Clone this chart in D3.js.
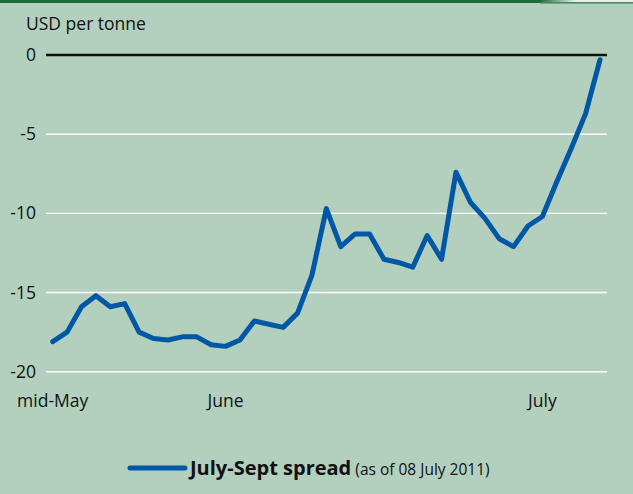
<!DOCTYPE html>
<html lang="en">
<head>
	<meta charset="UTF-8">
	<script src="https://d3js.org/d3.v7.min.js"></script>
	<title>July-Sept spread</title>
	<style>
		body { margin: 0; background: #b3d0be; }
		svg { display: block; font-family: "Open Sans", "Noto Sans", sans-serif; }
	</style>
</head>
<body>
	<div id="chart"></div>
	<script>
		// spread values, USD per tonne (daily, mid-May to 08 July 2011)
		const spread = [
			-18.1, -17.5, -15.9, -15.2, -15.9, -15.7, -17.5, -17.9, -18.0, -17.8,
			-17.8, -18.3, -18.4, -18.0, -16.8, -17.0, -17.2, -16.3, -13.9, -9.7,
			-12.1, -11.3, -11.3, -12.9, -13.1, -13.4, -11.4, -12.9, -7.4, -9.3,
			-10.3, -11.6, -12.1, -10.8, -10.2, -8.0, -5.9, -3.7, -0.3
		];
		const yTicks = [0, -5, -10, -15, -20];
		const xLabels = [
			{ index: 0, label: "mid-May" },
			{ index: 12, label: "June" },
			{ index: 34, label: "July" }
		];

		const width = 633, height = 494;

		const svg = d3.select("#chart").append("svg")
			.attr("width", width)
			.attr("height", height);

		svg.append("rect")
			.attr("width", width).attr("height", height)
			.attr("fill", "#b3d0be");

		// dark green band at the top, fading out to the right
		const grad = svg.append("defs").append("linearGradient")
			.attr("id", "fade")
			.attr("x1", 0).attr("x2", 1).attr("y1", 0).attr("y2", 0);
		grad.append("stop").attr("offset", 0).attr("stop-color", "#1d6b3a");
		grad.append("stop").attr("offset", 1).attr("stop-color", "#e6efe8");

		svg.append("rect")
			.attr("x", 0).attr("y", 0).attr("width", 540).attr("height", 3)
			.attr("fill", "#1d6b3a");
		svg.append("rect")
			.attr("x", 540).attr("y", 0).attr("width", 36).attr("height", 2.2)
			.attr("fill", "url(#fade)");
		svg.append("rect")
			.attr("x", 576).attr("y", 0).attr("width", 57).attr("height", 2.2)
			.attr("fill", "#e6efe8");
		svg.append("rect")
			.attr("x", 540).attr("y", 2.2).attr("width", 93).attr("height", 1.3)
			.attr("fill", "#2f7a47");

		const x = d3.scaleLinear()
			.domain([0, spread.length - 1])
			.range([52.7, 600]);

		const y = d3.scaleLinear()
			.domain([-20, 0])
			.range([371.7, 55]);

		// gridlines
		svg.append("g")
			.selectAll("line")
			.data(yTicks)
			.enter()
			.append("line")
			.attr("x1", 46).attr("x2", 607)
			.attr("y1", d => y(d)).attr("y2", d => y(d))
			.attr("stroke", d => d === 0 ? "#111" : "#ffffff")
			.attr("stroke-width", d => d === 0 ? 2.5 : 1.4);

		// y tick labels
		svg.append("g")
			.selectAll("text")
			.data(yTicks)
			.enter()
			.append("text")
			.attr("x", 36)
			.attr("y", d => y(d))
			.attr("dy", "0.35em")
			.attr("text-anchor", "end")
			.attr("font-size", 17.5)
			.attr("fill", "#111")
			.text(d => d);

		svg.append("text")
			.attr("x", 26).attr("y", 29.5)
			.attr("font-size", 17.5)
			.attr("fill", "#111")
			.text("USD per tonne");

		// x labels
		svg.append("g")
			.selectAll("text")
			.data(xLabels)
			.enter()
			.append("text")
			.attr("x", d => x(d.index))
			.attr("y", 407)
			.attr("text-anchor", "middle")
			.attr("font-size", 17.5)
			.attr("fill", "#111")
			.text(d => d.label);

		// spread line
		const line = d3.line()
			.x((d, i) => x(i))
			.y(d => y(d));

		svg.append("path")
			.datum(spread)
			.attr("d", line)
			.attr("fill", "none")
			.attr("stroke", "#0057a6")
			.attr("stroke-width", 5)
			.attr("stroke-linejoin", "round")
			.attr("stroke-linecap", "round");

		// legend
		const legend = svg.append("g");
		legend.append("line")
			.attr("x1", 130).attr("x2", 185)
			.attr("y1", 468).attr("y2", 468)
			.attr("stroke", "#0057a6")
			.attr("stroke-width", 5)
			.attr("stroke-linecap", "round");
		const lt = legend.append("text")
			.attr("x", 190).attr("y", 475)
			.attr("fill", "#111");
		lt.append("tspan")
			.attr("font-size", 20)
			.attr("font-weight", "bold")
			.text("July-Sept spread");
		lt.append("tspan")
			.attr("font-size", 15.5)
			.text(" (as of 08 July 2011)");
	</script>
</body>
</html>
